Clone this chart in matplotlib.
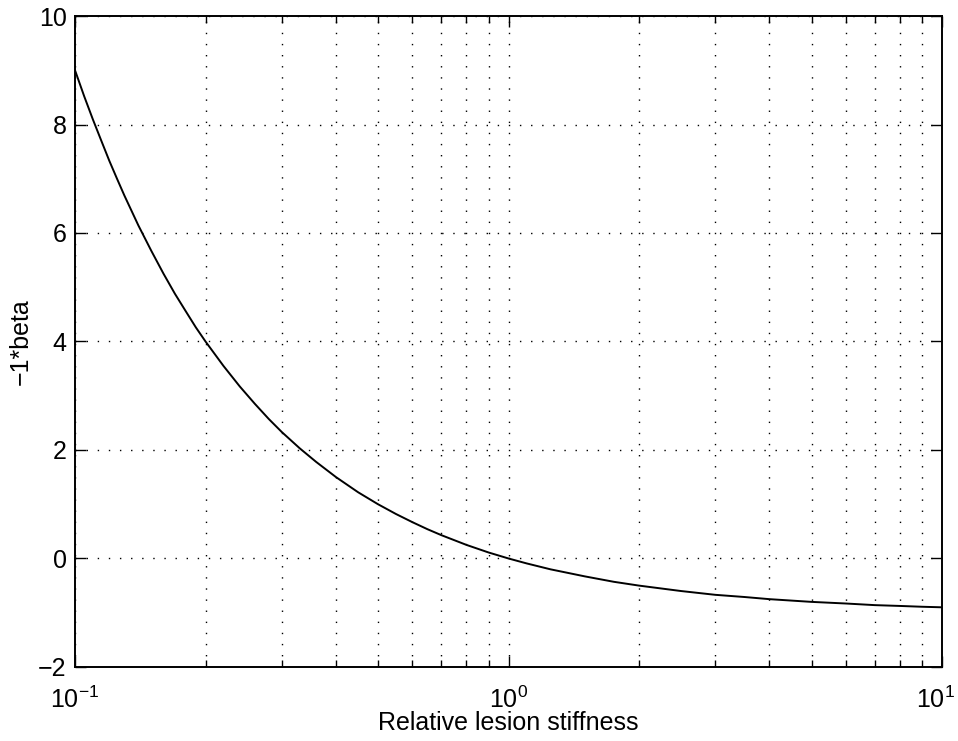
import matplotlib
matplotlib.use("Agg")
import matplotlib.pyplot as plt
import matplotlib.transforms as mtransforms
from matplotlib.ticker import LogLocator, NullFormatter

plt.rcParams['font.family'] = ['Liberation Sans', 'DejaVu Sans']
plt.rcParams['mathtext.fontset'] = 'custom'
plt.rcParams['mathtext.rm'] = 'Liberation Sans'
plt.rcParams['mathtext.it'] = 'Liberation Sans'

# values
stiffness = [0.1, 0.105, 0.11, 0.115, 0.12, 0.125, 0.13, 0.135, 0.14, 0.15,
             0.16, 0.17, 0.18, 0.19, 0.2, 0.22, 0.24, 0.26, 0.28, 0.3, 0.33,
             0.36, 0.4, 0.45, 0.5, 0.55, 0.6, 0.65, 0.7, 0.8, 0.9, 1.0, 1.1,
             1.25, 1.5, 1.75, 2.0, 2.5, 3.0, 3.5, 4.0, 5.0, 6.0, 7.0, 8.0,
             9.0, 10.0]
neg_beta = [9.0, 8.52, 8.09, 7.70, 7.33, 7.0, 6.69, 6.41, 6.14, 5.67,
            5.25, 4.88, 4.56, 4.26, 4.0, 3.55, 3.17, 2.85, 2.57, 2.33, 2.03,
            1.78, 1.5, 1.22, 1.0, 0.82, 0.67, 0.54, 0.43, 0.25, 0.11, 0.0,
            -0.09, -0.2, -0.33, -0.43, -0.5, -0.6, -0.67, -0.71, -0.75, -0.8,
            -0.83, -0.86, -0.875, -0.89, -0.9]

y_ticks = [-2, 0, 2, 4, 6, 8, 10]
x_ticks = [0.1, 1, 10]
x_labels = ['$10^{-1}$', '$10^{0}$', '$10^{1}$']

fig = plt.figure(figsize=(9.58, 7.41), dpi=100)
ax = fig.add_axes([0.0783, 0.0999, 0.905, 0.8785])

ax.plot(stiffness, neg_beta, color='black', lw=1.4)
ax.set_xscale('log')
ax.set_xlim(0.1, 10)
ax.set_ylim(-2, 10)

ax.set_xticks(x_ticks)
ax.set_xticklabels(x_labels)
ax.xaxis.set_minor_locator(LogLocator(base=10, subs=range(2, 10)))
ax.xaxis.set_minor_formatter(NullFormatter())
ax.set_yticks(y_ticks)
ax.set_yticklabels([str(v).replace('-', '\u2212') for v in y_ticks])

dots = (0, (1, 7))
ax.grid(True, which='both', axis='x', color='black', linestyle=dots, lw=1.0)
ax.grid(True, which='major', axis='y', color='black', linestyle=dots, lw=1.0)

ax.tick_params(which='both', direction='in', top=True, right=True, width=1.0)
ax.tick_params(which='major', length=8, labelsize=18)
ax.tick_params(which='minor', length=5)
ax.tick_params(axis='x', which='major', pad=14)
ax.tick_params(axis='y', which='major', pad=6)
for s in ax.spines.values():
    s.set_linewidth(1.4)

# nudge the last x tick label so it stays inside the figure
last = ax.xaxis.get_major_ticks()[-1].label1
last.set_transform(last.get_transform() +
                   mtransforms.ScaledTranslation(-5 / 72, 0, fig.dpi_scale_trans))

ax.set_xlabel('Relative lesion stiffness', fontsize=18, labelpad=-1)
ax.set_ylabel('\u22121*beta', fontsize=18, labelpad=4)

fig.savefig('out.png', dpi=100)
